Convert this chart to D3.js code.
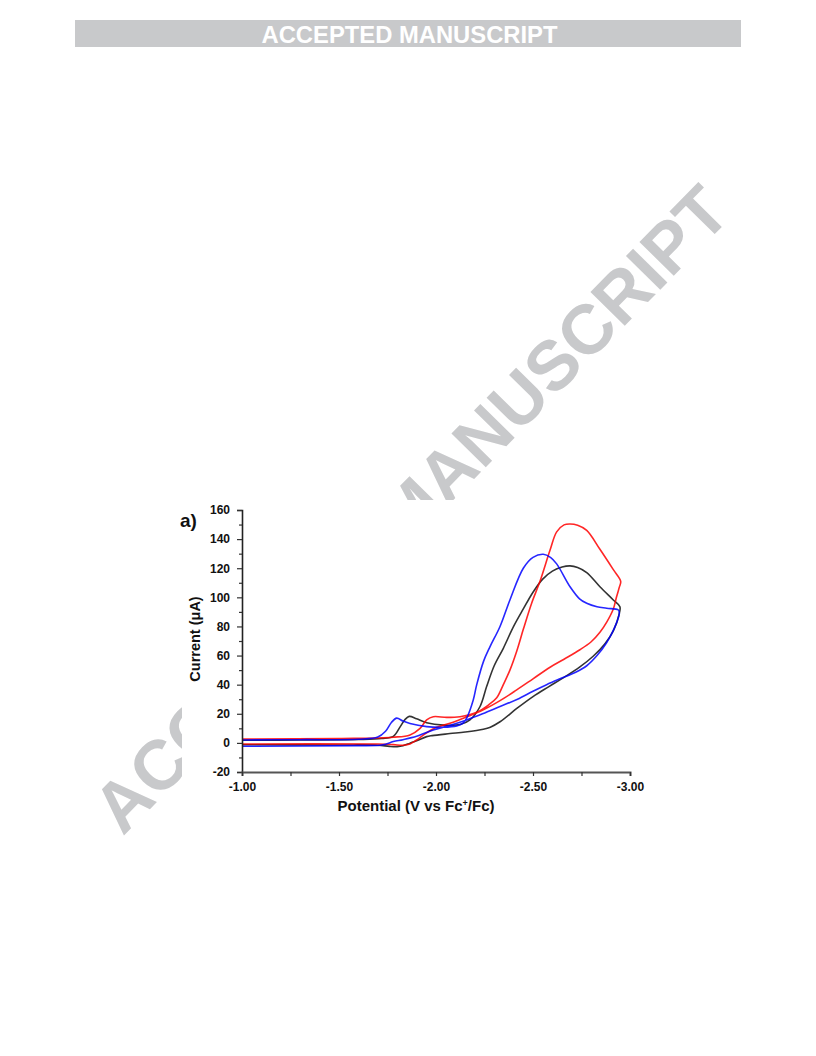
<!DOCTYPE html>
<html>
<head>
<meta charset="utf-8">
<script src="https://cdn.jsdelivr.net/npm/d3@7"></script>
<style>
  html, body { margin: 0; padding: 0; background: #fff; }
  svg { display: block; }
</style>
</head>
<body>
<svg id="page" width="816" height="1056"></svg>
<script>
// ---------------- data (Potential V vs Fc+/Fc, Current µA) ----------------
const xTicksMajor = [-1.00, -1.50, -2.00, -2.50, -3.00];
const xTicksMinor = [-1.25, -1.75, -2.25, -2.75];
const yTicksMajor = [-20, 0, 20, 40, 60, 80, 100, 120, 140, 160];
const yTicksMinor = [-10, 10, 30, 50, 70, 90, 110, 130, 150];

const blackCV = [
  [-1.00, 1.8], [-1.30, 2.0], [-1.60, 2.3], [-1.72, 3.0], [-1.78, 4.5], [-1.815, 11], [-1.84, 16],
  [-1.862, 18.2], [-1.90, 16.5], [-1.952, 13.8], [-2.038, 12.2], [-2.124, 12.6], [-2.175, 15.8],
  [-2.227, 25], [-2.261, 38.7], [-2.30, 53], [-2.347, 65], [-2.40, 80], [-2.45, 92], [-2.50, 103.5],
  [-2.55, 112.5], [-2.60, 118], [-2.65, 120.8], [-2.691, 121.6], [-2.73, 120.5], [-2.777, 117],
  [-2.845, 107.3], [-2.914, 98.2], [-2.948, 93.6],
  [-2.945, 89], [-2.914, 77], [-2.87, 68], [-2.81, 59.5], [-2.74, 52], [-2.66, 45], [-2.58, 38.5],
  [-2.50, 31.8], [-2.42, 24], [-2.33, 14.5], [-2.28, 10.8], [-2.244, 9.4], [-2.15, 7.5], [-2.072, 6.4],
  [-1.98, 5], [-1.952, 4.3], [-1.90, 1.5], [-1.866, -0.2], [-1.83, -2], [-1.80, -2.6], [-1.76, -2.4],
  [-1.70, -1.6], [-1.50, -1.4], [-1.00, -1.3]
];

const blueCV = [
  [-1.00, 2.0], [-1.30, 2.2], [-1.60, 2.5], [-1.70, 4.0], [-1.74, 8], [-1.77, 14], [-1.797, 17],
  [-1.83, 15], [-1.866, 13.3], [-1.952, 11.2], [-2.038, 10.8], [-2.107, 11.7], [-2.14, 13.5],
  [-2.158, 17], [-2.192, 29.5], [-2.21, 40], [-2.245, 56], [-2.278, 66], [-2.33, 80], [-2.381, 98.2],
  [-2.45, 120], [-2.50, 127.5], [-2.553, 129.6], [-2.59, 127.5], [-2.622, 123], [-2.691, 107.3],
  [-2.74, 99], [-2.777, 95.9], [-2.83, 93.5], [-2.88, 92.5], [-2.94, 91.3],
  [-2.945, 89], [-2.92, 79], [-2.88, 69], [-2.83, 60], [-2.777, 53], [-2.72, 48.5], [-2.639, 44],
  [-2.57, 40], [-2.50, 35.5], [-2.42, 30], [-2.33, 25], [-2.24, 20], [-2.158, 15.8], [-2.07, 12],
  [-1.986, 8.9], [-1.90, 4.5], [-1.83, 2.2], [-1.78, 0.9], [-1.74, -1.0], [-1.711, -1.6],
  [-1.60, -1.9], [-1.00, -2.3]
];

const redCV = [
  [-1.00, 2.6], [-1.50, 3.0], [-1.78, 3.9], [-1.866, 5.5], [-1.918, 10], [-1.952, 15.8],
  [-1.986, 18], [-2.055, 17.5], [-2.124, 18], [-2.21, 21], [-2.27, 26], [-2.313, 31], [-2.347, 40],
  [-2.381, 50], [-2.416, 63], [-2.45, 78], [-2.493, 96], [-2.536, 111], [-2.588, 132.5],
  [-2.622, 145], [-2.66, 149.8], [-2.691, 150.4], [-2.73, 149.5], [-2.777, 146],
  [-2.845, 133], [-2.914, 119], [-2.952, 111],
  [-2.945, 107], [-2.93, 100], [-2.914, 92], [-2.88, 83], [-2.845, 76], [-2.80, 69.5],
  [-2.742, 64], [-2.66, 57.5], [-2.588, 52], [-2.50, 44], [-2.416, 36.4], [-2.33, 29],
  [-2.244, 22.7], [-2.16, 18], [-2.072, 13.5], [-2.00, 10.5], [-1.952, 7], [-1.90, 2],
  [-1.866, -0.8], [-1.83, -1.6], [-1.78, -1.2], [-1.70, -0.8], [-1.00, -0.8]
];

const seriesColors = ["#000000", "#ff0000", "#0000ff"];

// ---------------- drawing ----------------
const svg = d3.select("#page");

// header bar
svg.append("rect").attr("x", 75).attr("y", 20).attr("width", 666).attr("height", 27).attr("fill", "#c8c9cb");
svg.append("text")
  .attr("x", 409.5).attr("y", 42.5)
  .attr("text-anchor", "middle")
  .attr("textLength", 296).attr("lengthAdjust", "spacingAndGlyphs")
  .attr("font-family", "'Liberation Sans Narrow','Liberation Sans',Arial,sans-serif")
  .attr("font-weight", "bold").attr("font-size", 23).attr("fill", "#ffffff")
  .text("ACCEPTED MANUSCRIPT");

// diagonal watermark
svg.append("text")
  .attr("transform", "translate(428,526) rotate(-45.5)")
  .attr("text-anchor", "middle")
  .attr("font-family", "'Liberation Sans',Arial,Helvetica,sans-serif")
  .attr("font-weight", "bold").attr("font-size", 70).attr("fill", "#c8c9cb")
  .text("ACCEPTED MANUSCRIPT");

// white figure panel covering watermark
svg.append("rect").attr("x", 182).attr("y", 500).attr("width", 488).attr("height", 330).attr("fill", "#ffffff");

const x = d3.scaleLinear().domain([-1, -3]).range([242, 630]);
const y = d3.scaleLinear().domain([-20, 160]).range([772, 510]);

const font = "'Liberation Sans',Arial,Helvetica,sans-serif";

// curves
const line = d3.line().x(d => x(d[0])).y(d => y(d[1])).curve(d3.curveCatmullRom.alpha(0.5));
const series = [blackCV, redCV, blueCV];
svg.append("g").selectAll("path").data(series).join("path")
  .attr("d", line)
  .attr("fill", "none")
  .attr("stroke", (d, i) => seriesColors[i])
  .attr("stroke-width", 1.6)
  .attr("stroke-linejoin", "round")
  .attr("stroke-opacity", (d, i) => i === 0 ? 0.8 : 0.85);

// y axis
svg.append("g").attr("transform", `translate(${x(-1)},0)`)
  .call(d3.axisLeft(y).tickValues(yTicksMajor).tickSize(5).tickPadding(7).tickFormat(d => String(d)));
svg.append("g").attr("transform", `translate(${x(-1)},0)`)
  .call(d3.axisLeft(y).tickValues(yTicksMinor).tickSize(3).tickFormat(""))
  .call(g => g.select(".domain").remove());

// x axis
const xAxis = svg.append("g").attr("transform", `translate(0,${y(-20)})`)
  .call(d3.axisBottom(x).tickValues(xTicksMajor).tickSize(4).tickPadding(6).tickFormat(d => d.toFixed(2)));
svg.append("g").attr("transform", `translate(0,${y(-20)})`)
  .call(d3.axisBottom(x).tickValues(xTicksMinor).tickSize(4).tickFormat(""))
  .call(g => g.select(".domain").remove());

svg.selectAll(".domain").attr("stroke", "#222").attr("stroke-width", 1.6);
xAxis.select(".domain").attr("stroke", "#555").attr("stroke-width", 2);
svg.selectAll(".tick line").attr("stroke", "#333").attr("stroke-width", 1.2);
svg.selectAll(".tick text").attr("font-family", font).attr("font-weight", "bold").attr("font-size", 12).attr("fill", "#111");

// axis titles
svg.append("text")
  .attr("x", 416).attr("y", 811)
  .attr("text-anchor", "middle")
  .attr("font-family", font).attr("font-weight", "bold").attr("font-size", 15).attr("fill", "#111")
  .text("Potential (V vs Fc")
  .append("tspan").attr("font-size", 9).attr("dy", -5).text("+")
  .select(function() { return this.parentNode; })
  .append("tspan").attr("dy", 5).text("/Fc)");

svg.append("text")
  .attr("transform", "translate(199.5,639) rotate(-90)")
  .attr("text-anchor", "middle")
  .attr("font-family", font).attr("font-weight", "bold").attr("font-size", 14.5).attr("fill", "#111")
  .text("Current (μA)");

// panel label
svg.append("text")
  .attr("x", 180).attr("y", 527)
  .attr("font-family", font).attr("font-weight", "bold").attr("font-size", 19).attr("fill", "#111")
  .text("a)");
</script>
</body>
</html>
